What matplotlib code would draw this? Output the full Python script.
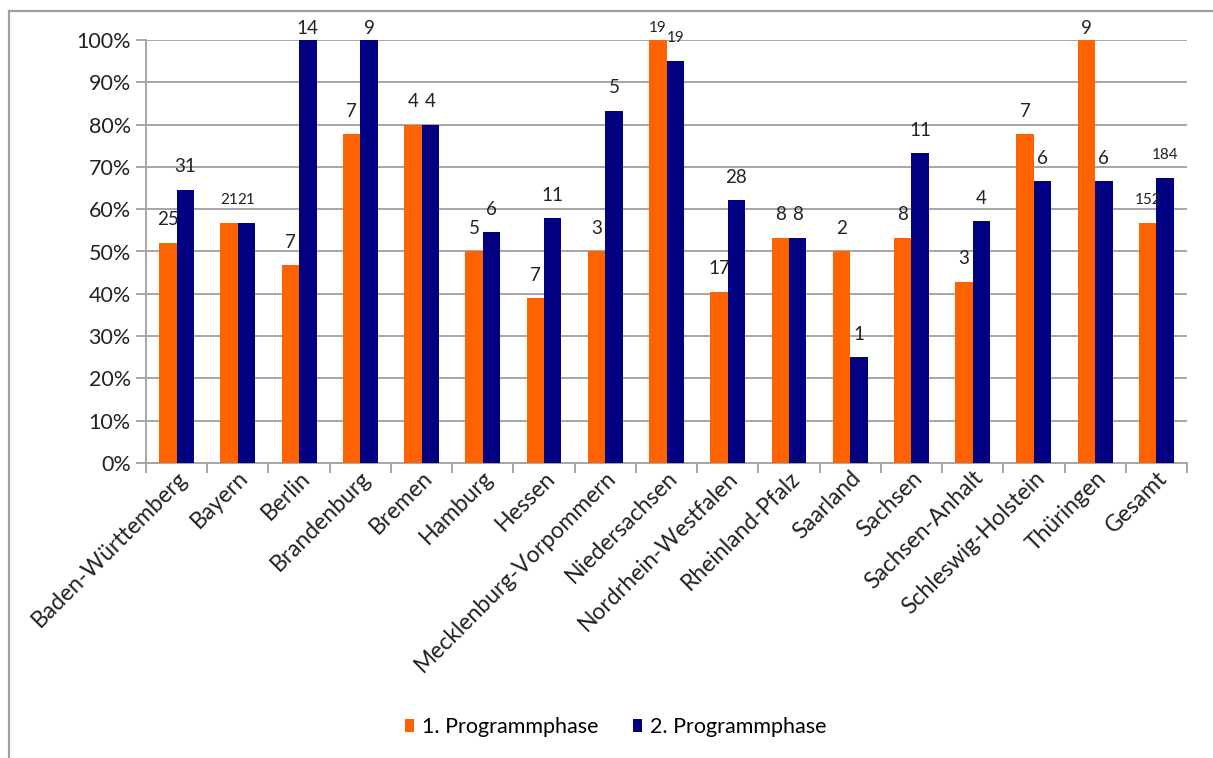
import numpy as np
import matplotlib as mpl
mpl.use('Agg')
import matplotlib.pyplot as plt
from matplotlib.lines import Line2D
from matplotlib.ticker import FixedLocator, PercentFormatter

plt.rcParams['font.family'] = ['Lato', 'DejaVu Sans']

laender = ['Baden-Württemberg', 'Bayern', 'Berlin', 'Brandenburg', 'Bremen',
           'Hamburg', 'Hessen', 'Mecklenburg-Vorpommern', 'Niedersachsen',
           'Nordrhein-Westfalen', 'Rheinland-Pfalz', 'Saarland', 'Sachsen',
           'Sachsen-Anhalt', 'Schleswig-Holstein', 'Thüringen', 'Gesamt']

# share in percent per phase
phase1_pct = [52.1, 56.8, 46.7, 77.8, 80.0, 50.0, 38.9, 50.0, 100.0, 40.5,
              53.3, 50.0, 53.3, 42.9, 77.8, 100.0, 56.7]
phase2_pct = [64.6, 56.8, 100.0, 100.0, 80.0, 54.5, 57.9, 83.3, 95.0, 62.2,
              53.3, 25.0, 73.3, 57.1, 66.7, 66.7, 67.4]

# absolute counts shown above the bars
phase1_n = [25, 21, 7, 7, 4, 5, 7, 3, 19, 17, 8, 2, 8, 3, 7, 9, 152]
phase2_n = [31, 21, 14, 9, 4, 6, 11, 5, 19, 28, 8, 1, 11, 4, 6, 6, 184]

series_names = ['1. Programmphase', '2. Programmphase']

ORANGE = '#ff6200'
NAVY = '#000080'
GRID = '#a6a6a6'
small = {'Bayern', 'Niedersachsen', 'Gesamt'}

fig = plt.figure(figsize=(12.13, 7.58), dpi=100)
ax = fig.add_axes([146/1213, 1-463/758, (1187-146)/1213, (463-40)/758])

x = np.arange(len(laender))
w = 0.285
ax.bar(x - w/2, phase1_pct, w, color=ORANGE, label=series_names[0], zorder=3)
ax.bar(x + w/2, phase2_pct, w, color=NAVY, label=series_names[1], zorder=3)

# count labels, pushed down to stay inside the chart area
for i, name in enumerate(laender):
    fs = 11 if name in small else 13.5
    for dx, v, n in ((-w/2, phase1_pct[i], phase1_n[i]), (w/2, phase2_pct[i], phase2_n[i])):
        y = min(v + 5.4, 102.8)
        ax.text(i + dx, y, str(n), ha='center', va='center', fontsize=fs,
                color='#222222', clip_on=False, zorder=4)

ax.set_xlim(-0.5, len(laender) - 0.5)
ax.set_ylim(0, 100)
ax.yaxis.set_major_locator(FixedLocator(np.arange(0, 101, 10)))
ax.yaxis.set_major_formatter(PercentFormatter(decimals=0))
ax.grid(axis='y', color=GRID, linewidth=1.4, zorder=0)

ax.set_xticks(x)
ax.set_xticklabels(laender, rotation=45, ha='right', va='top',
                   rotation_mode='anchor', fontsize=16.5, color='#222222')
ax.set_xticks(np.arange(-0.5, len(laender)), minor=True)
ax.tick_params(axis='x', which='major', length=0, pad=3)
ax.tick_params(axis='x', which='minor', length=7, width=1.4, color=GRID)
ax.tick_params(axis='y', length=7, width=1.4, color=GRID, labelsize=15.5,
               labelcolor='#222222', pad=4)

for s in ('top', 'right'):
    ax.spines[s].set_visible(False)
for s in ('left', 'bottom'):
    ax.spines[s].set_color(GRID)
    ax.spines[s].set_linewidth(1.4)

fig.legend(loc='center', bbox_to_anchor=(0.5074, 1-727/758), ncol=2, frameon=False,
           fontsize=15.5, handlelength=0.45, handleheight=0.6, handletextpad=0.35,
           columnspacing=1.6)

# outer chart frame
fig.add_artist(Line2D([9/1213, 1], [1-11/758, 1-11/758], color='#a0a0a0', lw=1.6,
                      transform=fig.transFigure))
fig.add_artist(Line2D([9/1213, 9/1213], [0, 1-11/758], color='#a0a0a0', lw=1.6,
                      transform=fig.transFigure))

fig.savefig('out.png', dpi=100, facecolor='white')
